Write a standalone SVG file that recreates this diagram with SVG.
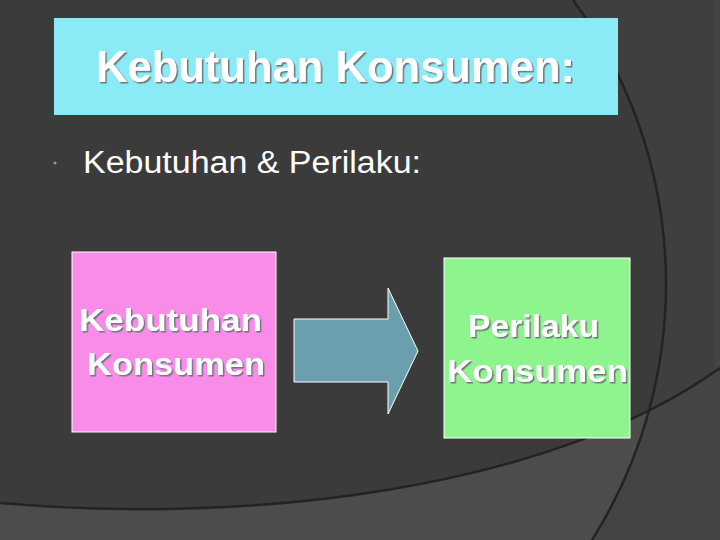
<svg xmlns="http://www.w3.org/2000/svg" width="720" height="540" viewBox="0 0 720 540">
<defs>
<style>
.t{font-family:"Liberation Sans",Arial,sans-serif;fill:#ffffff}
.b{font-weight:bold}
.sd{filter:url(#shadow)}
.arc{fill:none;stroke:#232323;stroke-width:2.5}
</style>
<filter id="shadow" x="-5%" y="-10%" width="115%" height="130%">
<feDropShadow dx="1.5" dy="1.5" stdDeviation="0.3" flood-color="#6f7678" flood-opacity="1"/>
</filter>
<clipPath id="rightArc"><path d="M573,0 A480,480 0 0 1 592,540 L720,540 L720,0 Z"/></clipPath>
</defs>
<g id="background">
<rect width="720" height="540" fill="#3b3b3b"/>
<path d="M573,0 A480,480 0 0 1 592,540 L720,540 L720,0 Z" fill="#3f3f3f"/>
<path d="M0,503 C250,525 550,490 720,368 L720,540 L0,540 Z" fill="#4c4c4c"/>
<path d="M0,503 C250,525 550,490 720,368 L720,540 L0,540 Z" fill="#444444" clip-path="url(#rightArc)"/>
<rect x="715" y="0" width="5" height="540" fill="#444444"/>
<path class="arc" d="M0,503 C250,525 550,490 720,368"/>
<path class="arc" d="M573,0 A480,480 0 0 1 592,540"/>
</g>
<g id="title">
<rect x="54" y="18" width="564" height="97" fill="#8aebf6"/>
<text class="t b sd" x="96" y="82" font-size="45" textLength="479" lengthAdjust="spacingAndGlyphs">Kebutuhan Konsumen:</text>
</g>
<g id="bullet">
<circle cx="55" cy="163" r="1.6" fill="#8a949e"/>
<text class="t" x="83" y="173" font-size="31" textLength="338" lengthAdjust="spacingAndGlyphs">Kebutuhan &amp; Perilaku:</text>
</g>
<g id="node-kebutuhan">
<rect x="72" y="252" width="204" height="180" fill="#f98be9" stroke="#ffffff" stroke-width="1"/>
<text class="t b sd" x="79" y="331" font-size="31" textLength="183" lengthAdjust="spacingAndGlyphs">Kebutuhan</text>
<text class="t b sd" x="87" y="375" font-size="31" textLength="178" lengthAdjust="spacingAndGlyphs">Konsumen</text>
</g>
<g id="node-perilaku">
<rect x="444" y="258" width="186" height="180" fill="#8ef58e" stroke="#ffffff" stroke-width="1"/>
<text class="t b sd" x="468" y="337" font-size="31" textLength="131" lengthAdjust="spacingAndGlyphs">Perilaku</text>
<text class="t b sd" x="447" y="382" font-size="31" textLength="181" lengthAdjust="spacingAndGlyphs">Konsumen</text>
</g>
<g id="connectors">
<polygon points="294,319 388,319 388,288 418,351 388,414 388,382 294,382" fill="#6c9fae" stroke="#ffffff" stroke-width="1"/>
</g>
</svg>
